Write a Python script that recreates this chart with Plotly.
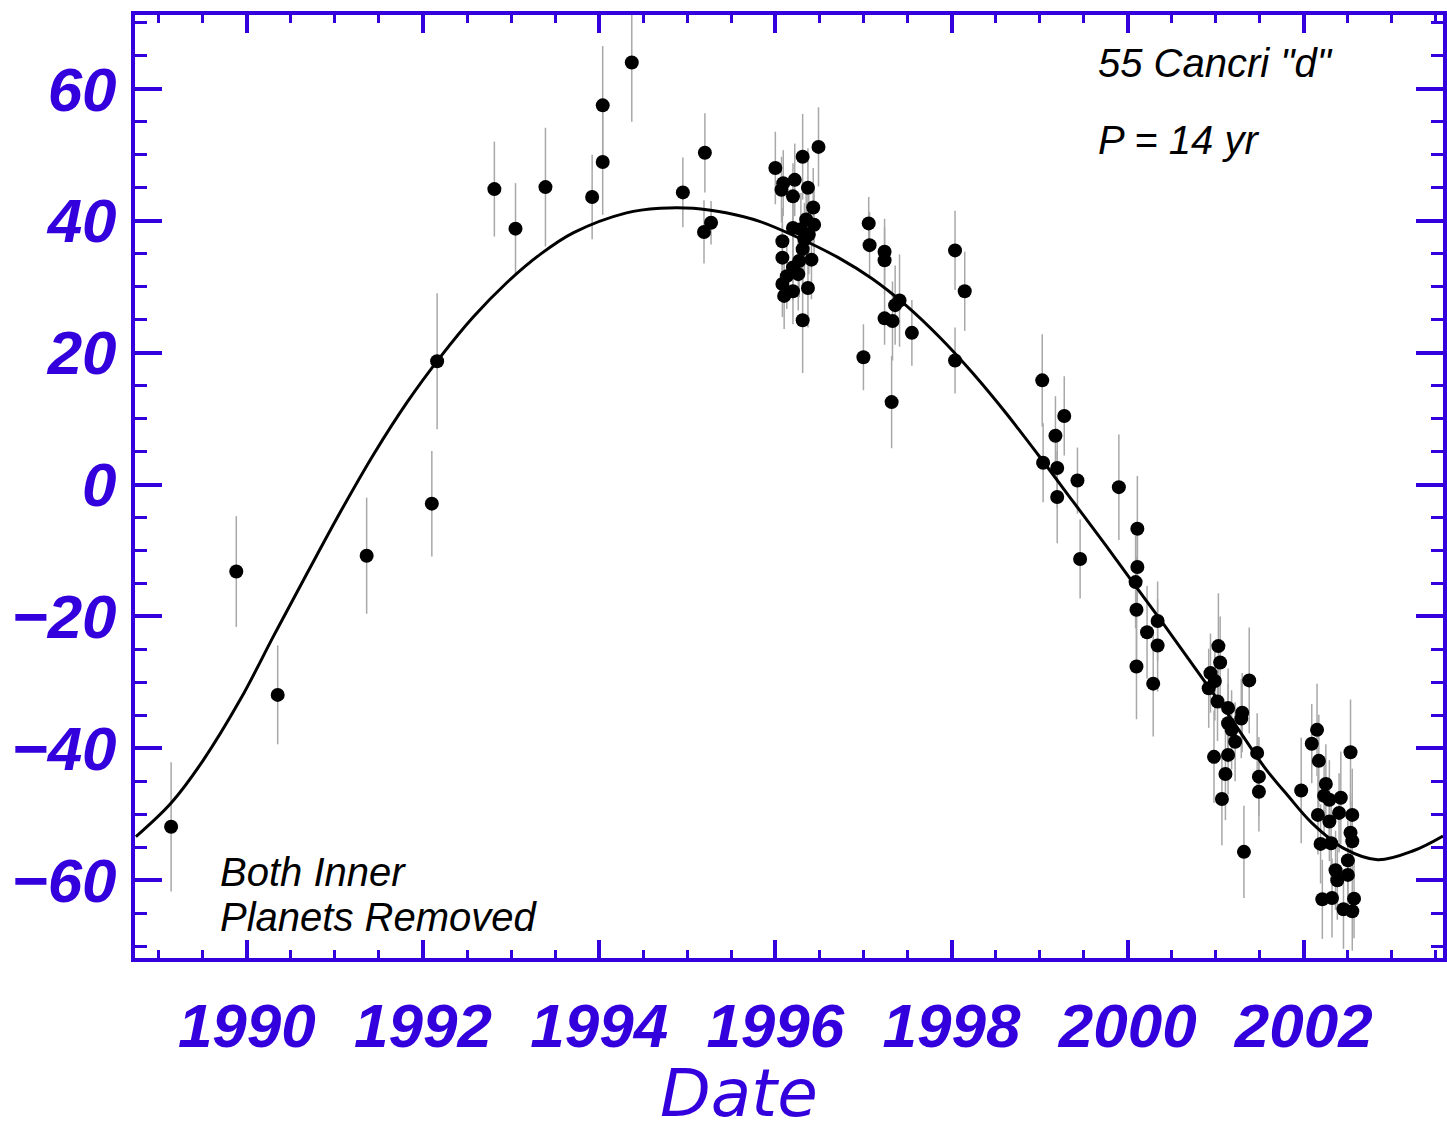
import plotly.graph_objects as go

# ---- data ----
obs_year = [
    1989.14, 1989.88, 1990.35, 1991.36, 1992.10, 1992.16, 1992.81, 1993.05, 1993.39,
    1993.92, 1994.04, 1994.04, 1994.37, 1994.95, 1995.20, 1995.19, 1995.27,
    1996.00, 1996.31, 1996.49, 1996.22, 1996.09, 1996.07, 1996.37, 1996.20, 1996.43,
    1996.35, 1996.44, 1996.20, 1996.29, 1996.08, 1996.38, 1996.08, 1996.31, 1996.41,
    1996.20, 1996.13, 1996.26, 1996.08, 1996.20, 1996.10, 1996.37, 1996.31, 1996.27,
    1996.33,
    1997.00, 1997.06, 1997.07, 1997.24, 1997.24, 1997.41, 1997.36, 1997.24, 1997.33,
    1997.55, 1997.32, 1998.04, 1998.15, 1998.04,
    1999.03, 1999.28, 1999.18, 1999.04, 1999.20, 1999.43, 1999.20, 1999.46, 1999.90,
    2000.11, 2000.11, 2000.09, 2000.10, 2000.34, 2000.22, 2000.34, 2000.10, 2000.29,
    2001.03, 2001.05, 2000.94, 2000.99, 2000.92, 2001.38, 2001.02, 2001.14, 2001.30,
    2001.29, 2001.14, 2001.18, 2001.22, 2001.47, 2000.98, 2001.14, 2001.49, 2001.11,
    2001.49, 2001.07, 2001.32,
    2002.15, 2002.09, 2002.17, 2002.53, 2001.97, 2002.25, 2002.23, 2002.29, 2002.42,
    2002.16, 2002.29, 2002.40, 2002.55, 2002.53, 2002.55, 2002.19, 2002.31, 2002.50,
    2002.36, 2002.50, 2002.38, 2002.21, 2002.32, 2002.57, 2002.45, 2002.55,
]
obs_vel = [
    -51.9, -13.2, -31.9, -10.8, -2.9, 18.7, 44.8, 38.8, 45.1,
    43.6, 48.9, 57.5, 64.0, 44.3, 50.3, 38.3, 39.7,
    48.0, 49.7, 51.2, 46.2, 45.7, 44.7, 45.0, 43.7, 42.0,
    40.2, 39.4, 38.9, 38.7, 36.9, 37.9, 34.4, 35.7, 34.1,
    32.9, 31.6, 31.9, 30.4, 29.3, 28.6, 29.8, 24.9, 33.9,
    37.2,
    19.3, 39.6, 36.3, 35.3, 34.0, 27.9, 27.2, 25.2, 24.8,
    23.0, 12.5, 35.5, 29.3, 18.8,
    15.8, 10.4, 7.4, 3.3, 2.5, 0.6, -1.9, -11.3, -0.4,
    -6.7, -12.5, -14.8, -19.0, -20.7, -22.4, -24.4, -27.6, -30.2,
    -24.5, -27.0, -28.6, -29.8, -30.9, -29.7, -32.9, -33.9, -34.6,
    -35.5, -36.2, -37.2, -39.0, -40.7, -41.3, -41.0, -44.3, -43.9,
    -46.6, -47.7, -55.7,
    -37.2, -39.3, -41.9, -40.6, -46.4, -45.4, -47.2, -47.8, -47.5,
    -50.1, -51.1, -49.8, -50.1, -52.8, -54.1, -54.5, -54.4, -57.0,
    -58.5, -59.2, -60.0, -62.9, -62.7, -62.8, -64.4, -64.7,
]
obs_err = [
    9.8, 8.4, 7.5, 8.8, 8.0, 10.3, 7.2, 6.9, 9.0,
    6.4, 8.0, 9.0, 9.0, 5.3, 6.0, 4.8, 3.3,
    5.5, 6.5, 6.0, 5.5, 5.0, 5.0, 6.0, 5.0, 6.0,
    5.0, 5.5, 5.0, 5.5, 5.0, 6.0, 5.0, 5.5, 6.0,
    5.0, 5.0, 5.5, 5.0, 5.0, 5.0, 6.0, 8.0, 5.5,
    5.5,
    5.0, 4.0, 5.0, 5.0, 5.0, 7.0, 6.0, 4.0, 6.0,
    5.0, 7.0, 6.0, 6.0, 5.0,
    7.0, 6.0, 6.0, 6.0, 6.0, 5.0, 7.0, 6.0, 8.0,
    8.0, 7.0, 7.0, 8.0, 6.0, 7.0, 7.0, 8.0, 8.0,
    8.0, 7.0, 6.0, 6.0, 6.0, 8.0, 6.0, 6.0, 6.0,
    6.0, 6.0, 6.0, 6.0, 6.0, 7.0, 6.0, 6.0, 7.0,
    6.0, 7.0, 7.0,
    7.0, 6.0, 7.0, 8.0, 8.0, 6.0, 6.0, 6.0, 7.0,
    6.0, 6.0, 6.0, 7.0, 6.0, 6.0, 6.0, 6.0, 6.0,
    6.0, 6.0, 6.0, 6.0, 6.0, 6.0, 6.0, 6.0,
]

fit_year = [1988.74, 1989.14, 1989.50, 1989.93, 1990.31, 1990.69, 1991.06, 1991.44,
            1991.82, 1992.20, 1992.57, 1992.95, 1993.33, 1993.71, 1994.31, 1994.69,
            1995.07, 1995.44, 1995.82, 1996.20, 1996.73, 1997.10, 1997.48, 1997.86,
            1998.24, 1998.62, 1998.99, 1999.37, 1999.75, 2000.05, 2000.43, 2000.80,
            2001.18, 2001.56, 2001.82, 2002.09, 2002.47, 2002.84, 2003.25, 2003.58]
fit_vel = [-53.4, -48.3, -41.9, -32.5, -22.8, -13.3, -4.2, 4.6,
           12.5, 19.4, 25.4, 30.6, 34.9, 38.2, 41.2, 41.9,
           41.9, 41.2, 39.9, 37.8, 34.3, 31.2, 27.2, 22.4,
           16.9, 10.8, 4.4, -2.4, -9.2, -14.7, -21.6, -28.5,
           -35.6, -43.0, -47.2, -51.3, -55.3, -56.9, -55.5, -53.3]

x_ticks = [1990, 1992, 1994, 1996, 1998, 2000, 2002]
y_ticks = [-60, -40, -20, 0, 20, 40, 60]

BLUE = "#3300dd"
FONT = "Liberation Sans"

fig = go.Figure()
fig.add_trace(go.Scatter(
    x=obs_year, y=obs_vel, mode="markers",
    marker=dict(size=14, color="black", line=dict(width=0)),
    error_y=dict(type="data", array=obs_err, visible=True, width=0,
                 thickness=1.5, color="#a8a8a8"),
    showlegend=False,
))
fig.add_trace(go.Scatter(
    x=fit_year, y=fit_vel, mode="lines",
    line=dict(color="black", width=3, shape="spline", smoothing=1.0),
    showlegend=False,
))

axis_common = dict(
    showgrid=False, zeroline=False, showline=True, linecolor=BLUE, linewidth=4,
    mirror="ticks", ticks="inside", tickcolor=BLUE, tickwidth=4, automargin=False,
    tickfont=dict(family=FONT, size=62, color=BLUE, weight="bold", style="italic"),
)

fig.update_xaxes(
    **axis_common, range=[1988.73, 2003.58], tickvals=x_ticks,
    ticktext=[str(v) for v in x_ticks], ticklen=18,
    minor=dict(ticks="inside", ticklen=8, tickwidth=3, tickcolor=BLUE, dtick=0.5, tick0=1990),
    ticklabelstandoff=11,
)
fig.update_yaxes(
    **axis_common, range=[-71.8, 71.2], tickvals=y_ticks,
    ticktext=[("\u2212" + str(-v)) if v < 0 else str(v) for v in y_ticks], ticklen=27,
    minor=dict(ticks="inside", ticklen=12, tickwidth=3, tickcolor=BLUE, dtick=5, tick0=0),
    ticklabelstandoff=2,
)

ann_font = dict(family=FONT, size=40, color="black", style="italic")
fig.update_layout(
    width=1447, height=1134,
    margin=dict(l=135, r=4, t=15, b=176),
    paper_bgcolor="white", plot_bgcolor="white",
    annotations=[
        dict(text='55 Cancri "d"', xref="paper", yref="paper", x=0.735, y=0.949,
             xanchor="left", yanchor="middle", showarrow=False, font=ann_font),
        dict(text="P = 14 yr", xref="paper", yref="paper", x=0.735, y=0.867,
             xanchor="left", yanchor="middle", showarrow=False, font=ann_font),
        dict(text="Both Inner", xref="paper", yref="paper", x=0.0634, y=0.091,
             xanchor="left", yanchor="middle", showarrow=False, font=ann_font),
        dict(text="Planets Removed", xref="paper", yref="paper", x=0.0634, y=0.043,
             xanchor="left", yanchor="middle", showarrow=False, font=ann_font),
        dict(text="Date", xref="paper", yref="paper", x=0.462, y=-0.1862,
             xanchor="center", yanchor="bottom", showarrow=False,
             font=dict(family="DejaVu Sans", size=66, color=BLUE, style="italic")),
    ],
)

fig.write_html(
    "out.html",
    config={"displayModeBar": False},
    post_script="document.body.style.margin='0';"
                "document.documentElement.style.overflow='hidden';",
)
